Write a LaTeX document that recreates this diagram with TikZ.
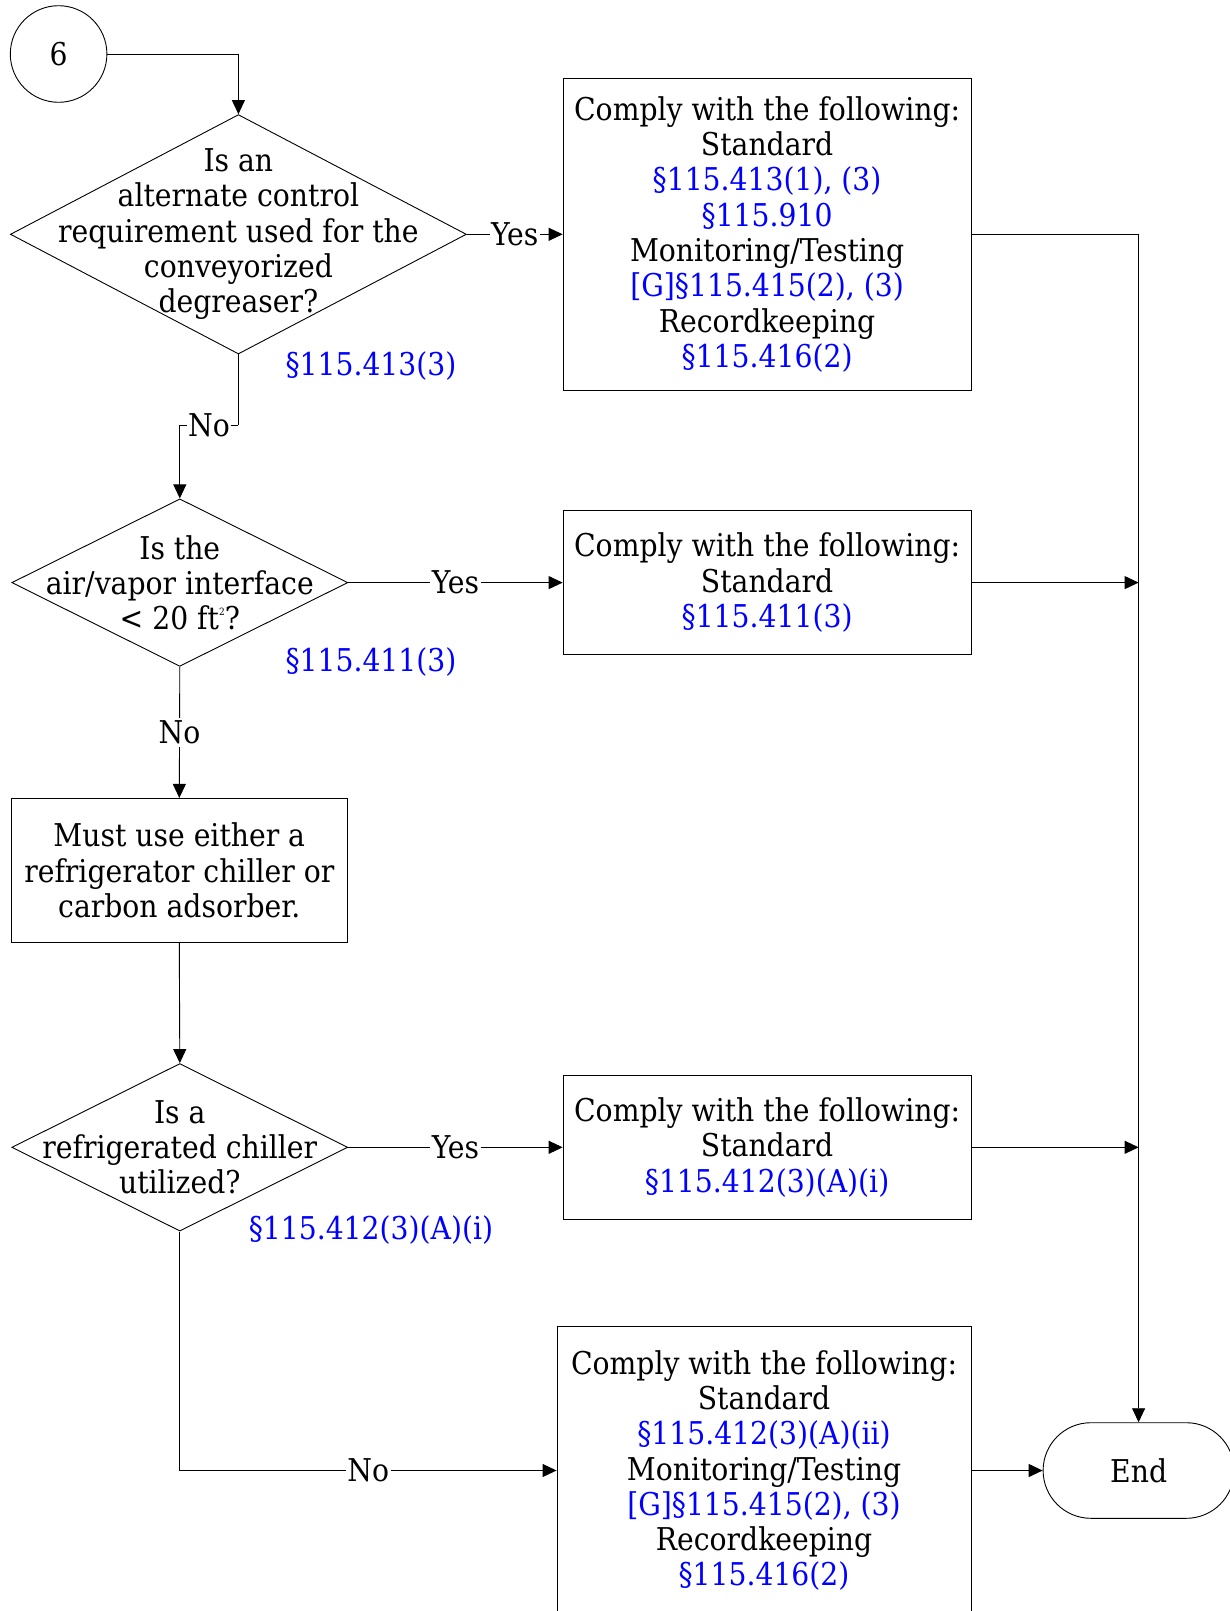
\documentclass[tikz,border=0pt]{standalone}
\usepackage{fontspec}
\setmainfont{DejaVu Serif Condensed}
\usetikzlibrary{shapes.geometric,arrows.meta}
\definecolor{refblue}{RGB}{0,0,255}
\begin{document}
\begin{tikzpicture}[x=1pt,y=-1pt,
  every node/.style={font=\fontsize{31.4}{35.3}\selectfont},
  line/.style={draw=black, line width=0.9pt},
  arr/.style={line, -{Triangle[length=14pt,width=13pt]}},
  dia/.style={diamond, draw, line width=0.9pt, inner sep=0pt},
  box/.style={rectangle, draw, line width=0.9pt, inner sep=0pt, align=center},
  txt/.style={align=center, inner sep=0pt},
  lbl/.style={fill=white, inner xsep=1.5pt, inner ysep=3pt},
  rf/.style={text=refblue, inner sep=0pt},
]
\useasboundingbox (0,0) rectangle (1230,1611);
\newcommand{\bl}[1]{\textcolor{refblue}{#1}}

% start connector
\node[circle, draw, line width=0.9pt, minimum size=96.6pt, inner sep=0pt] (c6) at (58.6,54) {6};

% decision 1
\node[dia, minimum width=456pt, minimum height=239.4pt] (d1) at (238.4,234.3) {};
\node[txt] (t1) at (238.4,234.3) {Is an\\alternate control\\requirement used for the\\conveyorized\\degreaser?};
\node[rf] (r1) at (371,366) {§115.413(3)};

% box 1
\node[box, minimum width=408pt, minimum height=312.4pt] (b1) at (767.1,234.3)
  {Comply with the following:\\Standard\\\bl{§115.413(1), (3)}\\\bl{§115.910}\\Monitoring/Testing\\\bl{[G]§115.415(2), (3)}\\Recordkeeping\\\bl{§115.416(2)}};

% decision 2
\node[dia, minimum width=336pt, minimum height=167.5pt] (d2) at (179.8,582.6) {};
\node[txt] (t2) at (179.8,582.6) {Is the\\air/vapor interface\\< 20 ft\raisebox{0.45em}{\fontsize{10}{10}\selectfont 2}?};
\node[rf] (r2) at (371,661.8) {§115.411(3)};

% box 2
\node[box, minimum width=408pt, minimum height=144pt] (b2) at (767.1,582.6)
  {Comply with the following:\\Standard\\\bl{§115.411(3)}};

% box 3
\node[box, minimum width=336pt, minimum height=144pt] (b3) at (179.3,870.4)
  {Must use either a\\refrigerator chiller or\\carbon adsorber.};

% decision 3
\node[dia, minimum width=336pt, minimum height=167.5pt] (d3) at (179.8,1147.3) {};
\node[txt] (t3) at (179.8,1147.3) {Is a\\refrigerated chiller\\utilized?};
\node[rf] (r3) at (371,1230.1) {§115.412(3)(A)(i)};

% box 4
\node[box, minimum width=408pt, minimum height=144pt] (b4) at (767.1,1147.3)
  {Comply with the following:\\Standard\\\bl{§115.412(3)(A)(i)}};

% box 5
\node[box, minimum width=414pt, minimum height=288pt] (b5) at (764,1470.5)
  {Comply with the following:\\Standard\\\bl{§115.412(3)(A)(ii)}\\Monitoring/Testing\\\bl{[G]§115.415(2), (3)}\\Recordkeeping\\\bl{§115.416(2)}};

% end
\node[rectangle, draw, line width=0.9pt, rounded corners=47.8pt, minimum width=191pt, minimum height=95.6pt] (end) at (1138.6,1470.5) {End};

% coordinates
\coordinate (n1a) at (238.4,425.4);
\coordinate (n1b) at (179.8,425.4);
\coordinate (n3) at (179.8,1470.5);
\coordinate (vtop) at (1138.6,234.3);

% connectors
\draw[arr] (c6.east) -| (d1.north);
\draw[arr] (d1.east) -- node[lbl]{Yes} (b1.west);
\draw[line] (d1.south) -- (n1a);
\draw[line] (n1a) -- node[lbl]{No} (n1b);
\draw[arr] (n1b) -- (d2.north);
\draw[arr] (d2.east) -- node[lbl]{Yes} (b2.west);
\draw[arr] (d2.south) -- node[lbl]{No} (b3.north);
\draw[arr] (b3.south) -- (d3.north);
\draw[arr] (d3.east) -- node[lbl]{Yes} (b4.west);
\draw[line] (d3.south) -- (n3);
\draw[arr] (n3) -- node[lbl]{No} (b5.west);
\draw[line] (b1.east) -- (vtop);
\draw[arr] (vtop) -- (end.north);
\draw[arr] (b2.east) -- (b2.east -| vtop);
\draw[arr] (b4.east) -- (b4.east -| vtop);
\draw[arr] (b5.east) -- (end.west);
\end{tikzpicture}
\end{document}
